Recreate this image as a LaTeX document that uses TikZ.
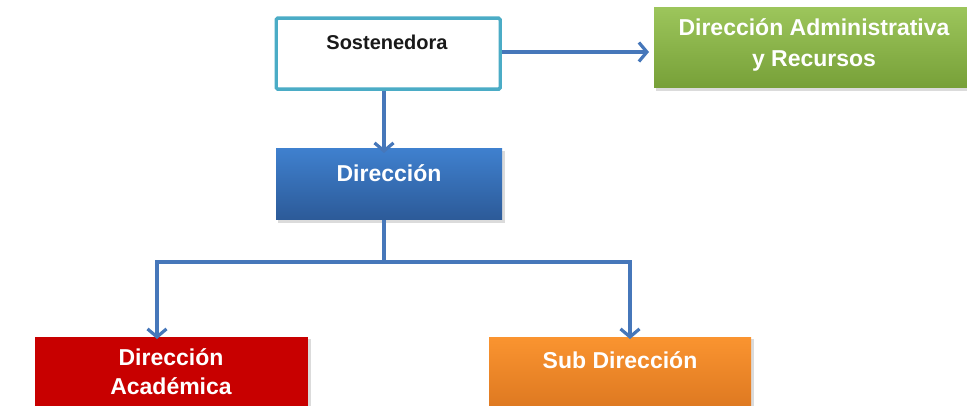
\documentclass[tikz,border=0pt]{standalone}
\usepackage{fontspec}
\setmainfont{Liberation Sans}
\usetikzlibrary{arrows.meta}
\definecolor{conn}{HTML}{4677BA}
\definecolor{sostb}{HTML}{4BACC6}
\definecolor{bluetop}{HTML}{3F80CE}
\definecolor{bluebot}{HTML}{2C5A98}
\definecolor{greentop}{HTML}{9CC55B}
\definecolor{greenbot}{HTML}{77A038}
\definecolor{orangetop}{HTML}{FA9430}
\definecolor{orangebot}{HTML}{D5701C}
\definecolor{redbox}{HTML}{C80000}
\tikzset{
  conn/.style={draw=conn, line width=3.4pt, -{Straight Barb[length=8pt,width=19pt,line width=3.2pt]}},
  connline/.style={draw=conn, line width=3.4pt},
  lbl/.style={font=\bfseries, inner sep=0pt, align=center},
}
\begin{document}
\begin{tikzpicture}[x=1pt,y=-1pt]
\useasboundingbox (0,0) rectangle (967,406);
% shadows
\fill[black!14] (278,151) rectangle (505,223);
\fill[black!14] (656,10) rectangle (970,91);
\fill[black!14] (37,339) rectangle (311,410);
\fill[black!14] (491,339) rectangle (754,410);
% boxes
\node[draw=sostb, line width=3.4pt, rounded corners=1.5pt, fill=white, minimum width=224pt, minimum height=71pt, anchor=north west] (sost) at (274.5,16.5) {};
\node[lbl, font=\bfseries\fontsize{20}{24}\selectfont, text=black!90] (sostt) at (387,42) {Sostenedora};
\shade[top color=bluetop, bottom color=bluebot] (276,149) rectangle (502,220);
\node[minimum width=226pt, minimum height=71pt, anchor=north west, inner sep=0pt] (dir) at (276,149) {};
\node[lbl, font=\bfseries\fontsize{23}{27}\selectfont, text=white] (dirt) at (389,173) {Dirección};
\shade[top color=greentop, bottom color=greenbot] (654,8) rectangle (967,88);
\node[minimum width=313pt, minimum height=80pt, anchor=north west, inner sep=0pt] (adm) at (654,8) {};
\node[lbl, font=\bfseries\fontsize{23}{31}\selectfont, text=white] (admt) at (814,45) {Dirección Administrativa\\y Recursos};
\fill[redbox] (35,337) rectangle (308,410);
\node[minimum width=273pt, minimum height=73pt, anchor=north west, inner sep=0pt] (aca) at (35,337) {};
\node[lbl, font=\bfseries\fontsize{23}{29}\selectfont, text=white] (acat) at (171,372) {Dirección\\Académica};
\shade[top color=orangetop, bottom color=orangebot] (489,337) rectangle (751,430);
\node[minimum width=262pt, minimum height=73pt, anchor=north west, inner sep=0pt] (sub) at (489,337) {};
\node[lbl, font=\bfseries\fontsize{23}{27}\selectfont, text=white] (subt) at (620,360) {Sub Dirección};
% connectors
\coordinate (j) at (384,262);
\coordinate (jl) at (157,262);
\coordinate (jr) at (630,262);
\draw[conn] (sost.east |- 0,52) -- ([xshift=-5pt]adm.west |- 0,52);
\draw[conn] (sost.south -| 384,0) -- ([yshift=-4pt]dir.north -| 384,0);
\draw[connline] (dir.south -| 384,0) -- (j);
\draw[connline, line cap=rect] (jl) -- (jr);
\draw[conn] (jl) -- ([yshift=-2pt]aca.north -| jl);
\draw[conn] (jr) -- ([yshift=-2pt]sub.north -| jr);
\end{tikzpicture}
\end{document}
